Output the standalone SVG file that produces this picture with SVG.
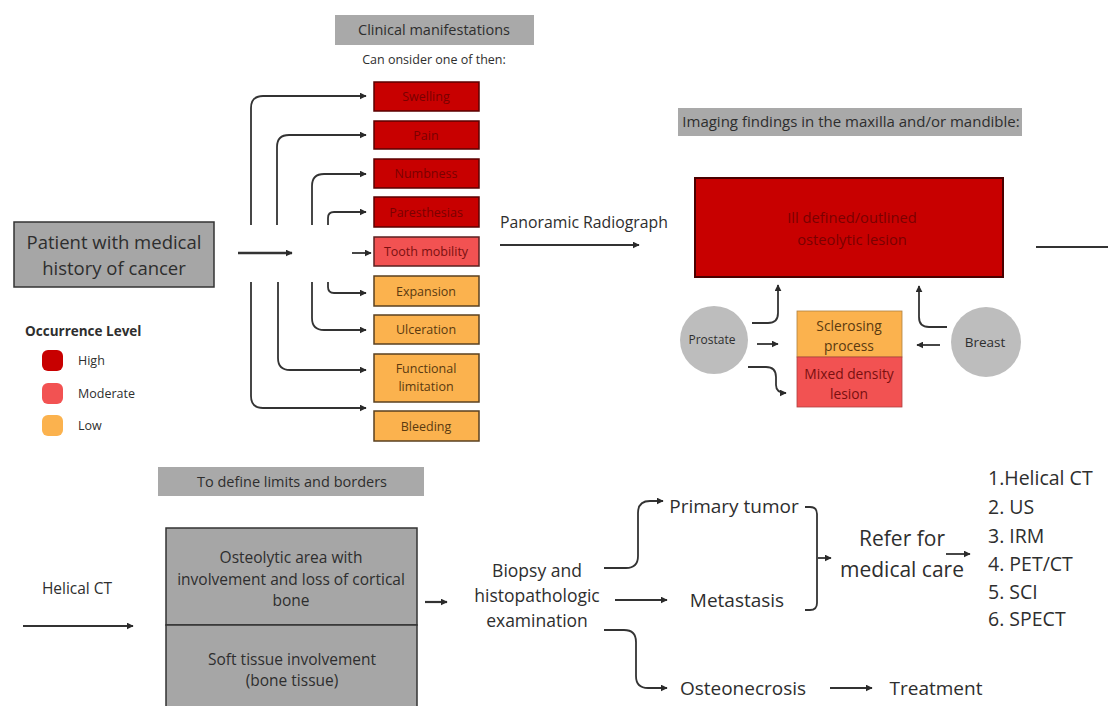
<svg xmlns="http://www.w3.org/2000/svg" width="1109" height="706" viewBox="0 0 1109 706">
<defs>
<marker id="ah" viewBox="0 0 10 10" refX="9" refY="5" markerWidth="7" markerHeight="7" markerUnits="userSpaceOnUse" orient="auto">
<path d="M0,0 L10,5 L0,10 z" fill="#2a2a2a"/>
</marker>
<style>
text{font-family:"Open Sans","Liberation Sans",sans-serif;text-anchor:middle;fill:#2e2e2e}
.hdr{fill:#a9a9a9}
.hi{fill:#c80000;stroke:#5a0000;stroke-width:1.5}
.mo{fill:#f25252;stroke:#5a2020;stroke-width:1.5}
.lo{fill:#fbb24e;stroke:#5a4020;stroke-width:1.5}
.gr{fill:#a6a6a6;stroke:#333;stroke-width:1.5}
.hit{fill:#7a0000;font-size:12.5px}
.mot{fill:#7a1010;font-size:12.5px}
.lot{fill:#5a3a10;font-size:12.5px}
.c{fill:none;stroke:#333;stroke-width:1.8}
.a{marker-end:url(#ah)}
.s{text-anchor:start}
</style>
</defs>

<g id="hdr-clinical"><rect class="hdr" x="335" y="15" width="199" height="30"/><text x="434" y="35" font-size="14.5">Clinical manifestations</text></g>
<g id="subtitle"><text x="434" y="64" font-size="12.5">Can onsider one of then:</text></g>

<g id="n-swelling"><rect class="hi" x="374" y="82" width="105" height="29"/><text class="hit" x="426" y="101">Swelling</text></g>
<g id="n-pain"><rect class="hi" x="374" y="121" width="105" height="28"/><text class="hit" x="426" y="139.5">Pain</text></g>
<g id="n-numbness"><rect class="hi" x="374" y="159" width="105" height="29"/><text class="hit" x="426" y="178">Numbness</text></g>
<g id="n-paresthesias"><rect class="hi" x="374" y="197" width="105" height="30"/><text class="hit" x="426" y="216.5">Paresthesias</text></g>
<g id="n-tooth"><rect class="mo" x="374" y="237" width="105" height="29"/><text class="mot" x="426" y="256">Tooth mobility</text></g>
<g id="n-expansion"><rect class="lo" x="374" y="276" width="105" height="30"/><text class="lot" x="426" y="295.5">Expansion</text></g>
<g id="n-ulceration"><rect class="lo" x="374" y="315" width="105" height="29"/><text class="lot" x="426" y="334">Ulceration</text></g>
<g id="n-functional"><rect class="lo" x="374" y="354" width="105" height="48"/><text class="lot" x="426" y="373">Functional</text><text class="lot" x="426" y="391">limitation</text></g>
<g id="n-bleeding"><rect class="lo" x="374" y="411" width="105" height="30"/><text class="lot" x="426" y="430.5">Bleeding</text></g>

<g id="n-patient"><rect class="gr" x="14" y="222" width="200" height="65"/><text x="114" y="249" font-size="18.5">Patient with medical</text><text x="114" y="275" font-size="18.5">history of cancer</text></g>

<g id="legend">
<text class="s" x="25" y="336" font-size="13.5" font-weight="bold">Occurrence Level</text>
<rect x="42" y="350" width="21" height="21" rx="6" fill="#c80000"/><text class="s" x="78" y="365" font-size="12.5">High</text>
<rect x="42" y="383" width="21" height="21" rx="6" fill="#f25252"/><text class="s" x="78" y="398" font-size="12.5">Moderate</text>
<rect x="42" y="415" width="21" height="21" rx="6" fill="#fbb24e"/><text class="s" x="78" y="430" font-size="12.5">Low</text>
</g>

<g id="lbl-panoramic"><text x="584" y="228" font-size="15.8">Panoramic Radiograph</text></g>
<g id="hdr-imaging"><rect class="hdr" x="678" y="108" width="344" height="28"/><text x="851" y="127" font-size="15">Imaging findings in the maxilla and/or mandible:</text></g>
<g id="n-lesion"><rect x="695" y="178" width="308" height="99" fill="#c80000" stroke="#4a0000" stroke-width="2"/><text x="852" y="223" font-size="14.7" style="fill:#7a0000">Ill defined/outlined</text><text x="852" y="245" font-size="14.7" style="fill:#7a0000">osteolytic lesion</text></g>
<g id="n-prostate"><circle cx="714" cy="340" r="34" fill="#bdbdbd"/><text x="712" y="344" font-size="12">Prostate</text></g>
<g id="n-breast"><circle cx="986" cy="342" r="35" fill="#bdbdbd"/><text x="985" y="347" font-size="13.5">Breast</text></g>
<g id="n-sclerosing"><rect x="797" y="311" width="105" height="46" fill="#fbb24e" stroke="#b08040" stroke-width="0.8"/><text x="849" y="331" font-size="13.8" style="fill:#5a3a10">Sclerosing</text><text x="849" y="351" font-size="13.8" style="fill:#5a3a10">process</text></g>
<g id="n-mixed"><rect x="797" y="357" width="105" height="50" fill="#f25252" stroke="#b04040" stroke-width="0.8"/><text x="849" y="379" font-size="13.8" style="fill:#7a1010">Mixed density</text><text x="849" y="399" font-size="13.8" style="fill:#7a1010">lesion</text></g>

<g id="hdr-limits"><rect class="hdr" x="158" y="467" width="266" height="29"/><text x="292" y="487" font-size="14.5">To define limits and borders</text></g>
<g id="lbl-helical"><text x="77" y="594" font-size="15.5">Helical CT</text></g>
<g id="n-osteolytic"><rect class="gr" x="166" y="528" width="251" height="97"/><text x="291" y="563" font-size="15.5">Osteolytic area with</text><text x="291" y="585" font-size="15.5">involvement and loss of cortical</text><text x="291" y="606" font-size="15.5">bone</text></g>
<g id="n-soft"><rect class="gr" x="166" y="625" width="251" height="82"/><text x="292" y="665" font-size="15.5">Soft tissue involvement</text><text x="292" y="686" font-size="15.5">(bone tissue)</text></g>

<g id="n-biopsy"><text x="537" y="577" font-size="17.5">Biopsy and</text><text x="537" y="602" font-size="17.5">histopathologic</text><text x="537" y="627" font-size="17.5">examination</text></g>
<g id="n-primary"><text x="734" y="513" font-size="19">Primary tumor</text></g>
<g id="n-metastasis"><text x="737" y="607" font-size="19">Metastasis</text></g>
<g id="n-osteonecrosis"><text x="743" y="695" font-size="19">Osteonecrosis</text></g>
<g id="n-treatment"><text x="936" y="695" font-size="19">Treatment</text></g>
<g id="n-refer"><text x="902" y="546" font-size="21">Refer for</text><text x="902" y="577" font-size="21">medical care</text></g>
<g id="n-list">
<text class="s" x="988" y="485" font-size="19.5">1.Helical CT</text>
<text class="s" x="988" y="514" font-size="19.5">2. US</text>
<text class="s" x="988" y="543" font-size="19.5">3. IRM</text>
<text class="s" x="988" y="571" font-size="19.5">4. PET/CT</text>
<text class="s" x="988" y="599" font-size="19.5">5. SCI</text>
<text class="s" x="988" y="626" font-size="19.5">6. SPECT</text>
</g>

<g id="connectors">
<path class="c a" d="M238,253 H292" style="stroke-width:2.4"/>
<path class="c a" d="M352,253 H371"/>
<path class="c a" d="M251,225 V108 Q251,96 263,96 H366"/>
<path class="c a" d="M277,225 V147 Q277,135 289,135 H366"/>
<path class="c a" d="M312,225 V186 Q312,174 324,174 H366"/>
<path class="c a" d="M328,225 V218 Q328,212 334,212 H366"/>
<path class="c a" d="M328,282 V287 Q328,293 334,293 H366"/>
<path class="c a" d="M312,282 V318 Q312,330 324,330 H366"/>
<path class="c a" d="M278,282 V358 Q278,370 290,370 H366"/>
<path class="c a" d="M251,282 V396 Q251,408 263,408 H366"/>
<path class="c a" d="M500,245 H639" style="stroke-width:2.2"/>
<path class="c" d="M1036,247 H1108" style="stroke-width:2.2"/>
<path class="c a" d="M752,323 H768 Q778,323 778,313 V285"/>
<path class="c a" d="M757,344 H778"/>
<path class="c a" d="M748,367 H766 Q776,367 776,377 V385 Q776,393 786,393"/>
<path class="c a" d="M947,327 H929 Q919,327 919,317 V286"/>
<path class="c a" d="M940,345 H917"/>
<path class="c a" d="M23,626 H133" style="stroke-width:2.2"/>
<path class="c a" d="M425,602 H447" style="stroke-width:2.2"/>
<path class="c a" d="M604,568 H626 Q638,568 638,556 V513 Q638,501 650,501 H663"/>
<path class="c a" d="M615,600 H667"/>
<path class="c a" d="M604,630 H624 Q636,630 636,642 V676 Q636,688 648,688 H667"/>
<path class="c a" d="M830,688 H872"/>
<path class="c" d="M805,507 H810 Q817,507 817,514 V603 Q817,610 810,610 H805"/>
<path class="c a" d="M818,558 H831"/>
<path class="c a" d="M946,554 H970"/>
</g>
</svg>
